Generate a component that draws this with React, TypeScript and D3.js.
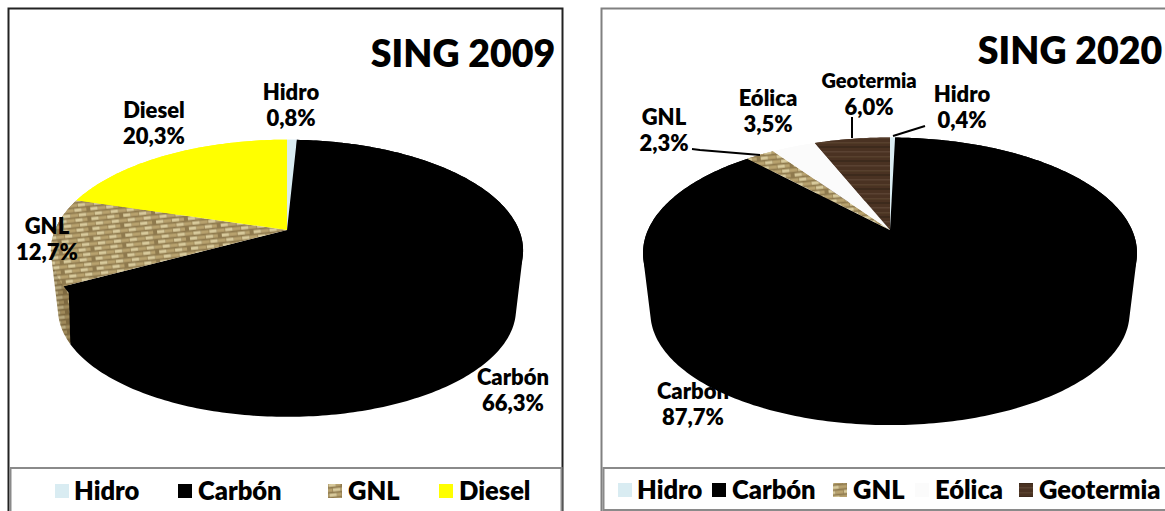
import React from "react";
import * as d3 from "d3";

const FONT = "Lato, 'Noto Sans', sans-serif";

const names2009 = ["Hidro", "Carbón", "GNL", "Diesel"];
const values2009 = [0.8, 66.3, 12.7, 20.3];
const names2020 = ["Hidro", "Carbón", "GNL", "Eólica", "Geotermia"];
const values2020 = [0.4, 87.7, 2.3, 3.5, 6.0];

const fills: Record<string, string> = {
  Hidro: "#d9ecf2",
  "Carbón": "#000000",
  GNL: "url(#burlap)",
  Diesel: "#ffff00",
  "Eólica": "#fbfbfb",
  Geotermia: "url(#wood)",
};

type Geo = { cx: number; cy: number; R: number; ry: number; k: number; depth: number; shrink: number };
const geo2009: Geo = { cx: 287, cy: 230, R: 232, ry: 107, k: 0.185, depth: 59.5, shrink: 0.97 };
const geo2020: Geo = { cx: 890, cy: 230, R: 242, ry: 111, k: 0.2, depth: 60.5, shrink: 0.97 };

function project(g: Geo, angle: number, r: number, bottom: boolean): [number, number] {
  const u = Math.sin(angle) * r;
  const v = -Math.cos(angle) * r;
  const s = 1 / (1 - g.k * v);
  const scale = bottom ? g.shrink : 1;
  return [g.cx + g.R * u * s * scale, g.cy + (bottom ? g.depth : 0) + g.ry * v * s * scale];
}

const line = d3.line();

function Pie3D({ geo, names, values }: { geo: Geo; names: string[]; values: number[] }) {
  const arcs = d3.pie<number>().sort(null).startAngle(0).endAngle(2 * Math.PI)(values);
  const sample = (a0: number, a1: number) =>
    d3.range(0, 1.0001, 1 / Math.max(4, Math.ceil((a1 - a0) * 60))).map((t) => a0 + (a1 - a0) * t);
  return (
    <g>
      {arcs.map((a, i) => {
        const as = sample(a.startAngle, a.endAngle);
        const quads = as.slice(1).flatMap((t, j) =>
          [1, 0.98].map((rim) => {
            const q: [number, number][] = [
              project(geo, as[j], rim, false),
              project(geo, t, rim, false),
              project(geo, t, 1, true),
              project(geo, as[j], 1, true),
            ];
            if (d3.polygonArea(q) < 0) q.reverse();
            return line(q) + "Z";
          })
        );
        const d = quads.join("");
        return (
          <g key={"w" + i}>
            <path d={d} fill={fills[names[i]]} />
            {names[i] === "GNL" && <path d={d} fill="rgba(60,40,10,0.2)" />}
          </g>
        );
      })}
      {arcs.map((a, i) => {
        const as = sample(a.startAngle, a.endAngle);
        const pts = [project(geo, 0, 0, false), ...as.map((t) => project(geo, t, 1, false))];
        return <path key={"t" + i} d={line(pts) + "Z"} fill={fills[names[i]]} />;
      })}
    </g>
  );
}

const label2009 = [
  { t: ["Hidro", "0,8%"], x: 291, y: 92 },
  { t: ["Diesel", "20,3%"], x: 154, y: 110 },
  { t: ["GNL", "12,7%"], x: 47, y: 226 },
  { t: ["Carbón", "66,3%"], x: 513, y: 377 },
];
const label2020 = [
  { t: ["GNL", "2,3%"], x: 664, y: 117 },
  { t: ["Eólica", "3,5%"], x: 768, y: 98 },
  { t: ["Geotermia", "6,0%"], x: 869, y: 81, small: true },
  { t: ["Hidro", "0,4%"], x: 962, y: 94 },
  { t: ["Carbón", "87,7%"], x: 693, y: 391 },
];
const legend2009 = [
  { n: "Hidro", sx: 55, tx: 74 },
  { n: "Carbón", sx: 178, tx: 198 },
  { n: "GNL", sx: 328, tx: 348 },
  { n: "Diesel", sx: 439, tx: 459 },
];
const legend2020 = [
  { n: "Hidro", sx: 618, tx: 637 },
  { n: "Carbón", sx: 712, tx: 732 },
  { n: "GNL", sx: 833, tx: 853 },
  { n: "Eólica", sx: 915, tx: 935 },
  { n: "Geotermia", sx: 1019, tx: 1039 },
];

function Labels({ items }: { items: { t: string[]; x: number; y: number; small?: boolean }[] }) {
  return (
    <g fontFamily={FONT} fontWeight={800} fill="#000" textAnchor="middle">
      {items.map((l) =>
        l.t.map((s, i) => (
          <text key={l.t[0] + i} x={l.x} y={l.y + i * 26} dy="0.36em" fontSize={l.small && i === 0 ? 20 : 22}>
            {s}
          </text>
        ))
      )}
    </g>
  );
}

function Legend({ items, y }: { items: { n: string; sx: number; tx: number }[]; y: number }) {
  return (
    <g fontFamily={FONT} fontWeight={800} fontSize={25.5} fill="#000">
      {items.map((l) => (
        <g key={l.n}>
          <rect x={l.sx} y={y - 7} width={14} height={14} fill={fills[l.n]} />
          <text x={l.tx} y={y} dy="0.36em">{l.n}</text>
        </g>
      ))}
    </g>
  );
}

const weaveRows = [0, 1, 2, 3];
const weaveCols = [0, 1, 2, 3];

export default function App() {
  return (
    <svg width={1165} height={511} style={{ position: "absolute", left: 0, top: 0 }}>
      <defs>
        <filter id="soft" x="-20%" y="-20%" width="140%" height="140%">
          <feGaussianBlur stdDeviation="0.6" />
        </filter>
        <pattern id="burlap" width={32} height={20} patternUnits="userSpaceOnUse" patternTransform="rotate(-6)">
          <rect width={32} height={20} fill="#8f7a4e" />
          <g filter="url(#soft)">
            {weaveRows.map((r) =>
              weaveCols.map((c) => (
                <rect key={r + "-" + c} x={c * 8 + (r % 2) * 4} y={r * 5 + 0.5} width={7.5} height={3.2}
                  fill={(r + c) % 2 ? "#d8ca9c" : "#b8a26e"} />
              ))
            )}
          </g>
        </pattern>
        <pattern id="wood" width={60} height={14} patternUnits="userSpaceOnUse">
          <rect width={60} height={14} fill="#4a3222" />
          <g filter="url(#soft)">
            <rect y={2} width={60} height={1.5} fill="#58402e" />
            <rect y={6} x={0} width={60} height={2} fill="#3e291c" />
            <rect y={11} x={0} width={60} height={1.5} fill="#5a4331" />
          </g>
        </pattern>
      </defs>
      <rect width={1165} height={511} fill="#fff" />

      {/* left panel */}
      <rect x={8.5} y={8.5} width={554} height={520} fill="#fff" stroke="#222" strokeWidth={2} />
      <rect x={10.5} y={468} width={551} height={60} fill="#fff" stroke="#8a8a8a" strokeWidth={2} />
      <Pie3D geo={geo2009} names={names2009} values={values2009} />
      <Labels items={label2009} />
      <text x={463} y={53} dy="0.36em" textAnchor="middle" fontFamily={FONT} fontWeight={800} fontSize={37.5}>SING 2009</text>
      <Legend items={legend2009} y={491} />

      {/* right panel */}
      <rect x={601.5} y={8.5} width={600} height={520} fill="#fff" stroke="#808080" strokeWidth={2} />
      <rect x={603.5} y={468} width={600} height={42} fill="#fff" stroke="#8a8a8a" strokeWidth={2} />
      <Pie3D geo={geo2020} names={names2020} values={values2020} />
      <g stroke="#000" strokeWidth={2} fill="none">
        <path d="M692,149 L700,150 L760,155" />
        <path d="M852,117 L852,138" />
        <path d="M893,136 L925,126" />
      </g>
      <Labels items={label2020} />
      <text x={1070} y={50} dy="0.36em" textAnchor="middle" fontFamily={FONT} fontWeight={800} fontSize={37.5}>SING 2020</text>
      <Legend items={legend2020} y={490} />
    </svg>
  );
}
